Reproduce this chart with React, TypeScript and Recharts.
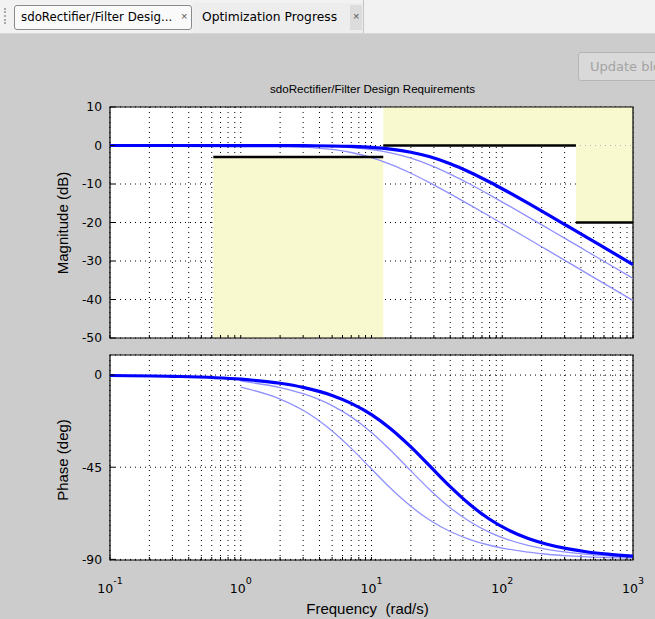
import React from 'react';
import { ComposedChart, Line, XAxis, YAxis, CartesianGrid, ReferenceArea } from 'recharts';

// ---- data ----
const freqThick = [0.1, 0.3, 1, 2, 3, 5, 7, 10, 14, 20, 28, 40, 56, 80, 110, 160, 220, 320, 450, 640, 1000];
const magThick = [0, 0, -0.01, -0.02, -0.05, -0.13, -0.25, -0.5, -0.94, -1.74, -2.94, -4.73, -6.87, -9.48, -12.01, -15.12, -17.82, -21.04, -23.98, -27.04, -30.91];
const phaseThick = [-0.2, -0.6, -2.0, -4.0, -6.0, -9.95, -13.8, -19.3, -26.2, -35.1, -44.5, -54.5, -63.0, -70.4, -75.5, -79.9, -82.6, -84.9, -86.4, -87.45, -88.4];

const freqThin = [1, 2, 3, 5, 7, 10, 14, 20, 28, 40, 56, 80, 110, 160, 220, 320, 450, 640, 1000];
const magMid = [-0.01, -0.05, -0.11, -0.3, -0.56, -1.08, -1.92, -3.29, -5.08, -7.42, -9.94, -12.81, -15.47, -18.66, -21.4, -24.63, -27.59, -30.64, -34.52];
const phaseMid = [-3.0, -6.1, -9.1, -14.9, -20.4, -28.0, -36.7, -46.8, -56.1, -64.8, -71.4, -76.8, -80.3, -83.3, -85.1, -86.6, -87.6, -88.3, -88.9];
const magLow = [-0.05, -0.18, -0.4, -1.02, -1.82, -3.14, -4.89, -7.2, -9.7, -12.55, -15.36, -18.39, -21.13, -24.36, -27.12, -30.37, -33.33, -36.39, -40.27];
const phaseLow = [-5.9, -11.7, -17.2, -27.3, -35.8, -45.9, -55.3, -64.1, -70.9, -76.4, -80.2, -83.1, -85.0, -86.5, -87.5, -88.3, -88.8, -89.1, -89.4];

// design requirement bounds
const lowerBoundFreq = [0.617, 12.3];
const lowerBoundMag = [-3, -3];
const upperBoundFreqA = [12.3, 366];
const upperBoundMagA = [0, 0];
const upperBoundFreqB = [366, 1000];
const upperBoundMagB = [-20, -20];

// axes
const xTicks = [0.1, 0.2, 0.3, 0.4, 0.5, 0.6, 0.7, 0.8, 0.9, 1, 2, 3, 4, 5, 6, 7, 8, 9, 10, 20, 30, 40, 50, 60, 70, 80, 90, 100, 200, 300, 400, 500, 600, 700, 800, 900, 1000];
const decades = [0.1, 1, 10, 100, 1000];
const decadeExp = ['-1', '0', '1', '2', '3'];
const magTicks = [10, 0, -10, -20, -30, -40, -50];
const phaseTicks = [0, -45, -90];
const magDomain = [-50, 10];
const phaseDomain = [-90.3, 9.8];
const xDomain = [0.1, 1000];

const zip = (xs: number[], ys: number[]) => xs.map((f, i) => ({ f, v: ys[i] }));

const THICK = '#0000ff';
const THIN = '#9090ff';
const YELLOW = '#f9f9d0';
const tickFont = { fontFamily: '"DejaVu Sans", sans-serif', fontSize: 12.3, fill: '#000' };

const XTick = (props: any) => {
  const { x, y, payload } = props;
  const idx = decades.indexOf(payload.value);
  if (idx < 0) return <g />;
  return (
    <text x={x} y={y + 25} textAnchor="middle" style={{ fontFamily: '"DejaVu Sans", sans-serif', fontSize: 12.5 }} fill="#000">
      10<tspan dy={-9} fontSize={9.5}>{decadeExp[idx]}</tspan>
    </text>
  );
};

const EmptyTick = () => <g />;

function Panel(props: {
  top: number; height: number; margin: any; yTicks: number[]; yDomain: number[];
  thick: any[]; mid: any[]; low: any[]; showX: boolean; bounds: boolean;
}) {
  const { top, height, margin, yTicks, yDomain, thick, mid, low, showX, bounds } = props;
  return (
    <div style={{ position: 'absolute', left: 0, top, width: 655, height }}>
      <ComposedChart width={655} height={height} margin={margin}>
        <CartesianGrid stroke="#000" strokeDasharray="1 4" fill="#ffffff" fillOpacity={1} />
        <XAxis
          dataKey="f" type="number" scale="log" domain={xDomain} ticks={xTicks} allowDataOverflow
          axisLine={false} tickLine={{ stroke: '#000' }} tickSize={-3} tickMargin={11} interval={0}
          tick={showX ? <XTick /> : <EmptyTick />} height={showX ? 40 : 1}
        />
        <YAxis
          type="number" domain={yDomain} ticks={yTicks} allowDataOverflow interval={0}
          axisLine={false} tickLine={{ stroke: '#000' }} tickSize={-5} tickMargin={13} width={50} tick={tickFont}
        />
        {bounds && <ReferenceArea x1={lowerBoundFreq[0]} x2={lowerBoundFreq[1]} y1={magDomain[0]} y2={lowerBoundMag[0]} fill={YELLOW} fillOpacity={1} stroke="none" />}
        {bounds && <ReferenceArea x1={upperBoundFreqA[0]} x2={xDomain[1]} y1={upperBoundMagA[0]} y2={magDomain[1]} fill={YELLOW} fillOpacity={1} stroke="none" />}
        {bounds && <ReferenceArea x1={upperBoundFreqB[0]} x2={xDomain[1]} y1={upperBoundMagB[0]} y2={upperBoundMagA[0]} fill={YELLOW} fillOpacity={1} stroke="none" />}
        <Line data={low} dataKey="v" type="monotone" stroke={THIN} strokeWidth={1.3} dot={false} isAnimationActive={false} />
        <Line data={mid} dataKey="v" type="monotone" stroke={THIN} strokeWidth={1.3} dot={false} isAnimationActive={false} />
        <Line data={thick} dataKey="v" type="monotone" stroke={THICK} strokeWidth={3.2} dot={false} isAnimationActive={false} />
        {bounds && <Line data={zip(lowerBoundFreq, lowerBoundMag)} dataKey="v" type="linear" stroke="#000" strokeWidth={2.5} dot={false} isAnimationActive={false} />}
        {bounds && <Line data={zip(upperBoundFreqA, upperBoundMagA)} dataKey="v" type="linear" stroke="#000" strokeWidth={2.5} dot={false} isAnimationActive={false} />}
        {bounds && <Line data={zip(upperBoundFreqB, upperBoundMagB)} dataKey="v" type="linear" stroke="#000" strokeWidth={2.5} dot={false} isAnimationActive={false} />}
        <ReferenceArea x1={xDomain[0]} x2={xDomain[1]} y1={yDomain[0]} y2={yDomain[1]} fill="none" stroke="#000" strokeWidth={1.2} ifOverflow="visible" />
      </ComposedChart>
    </div>
  );
}

export default function App() {
  const label: React.CSSProperties = { position: 'absolute', fontSize: 15, color: '#000', whiteSpace: 'pre', lineHeight: '17px' };
  return (
    <div style={{ position: 'absolute', left: 0, top: 0, width: 655, height: 619, overflow: 'hidden', background: '#cccccc', fontFamily: '"Liberation Sans", Arial, sans-serif' }}>
      {/* tab strip */}
      <div style={{ position: 'absolute', left: 0, top: 0, width: 655, height: 33, background: '#f2f2f2', borderBottom: '1px solid #d6d6d6' }} />
      <div style={{ position: 'absolute', left: 4, top: 8, width: 2, height: 16, borderLeft: '2px dotted #aaa' }} />
      <div style={{ position: 'absolute', left: 14, top: 5, width: 178, height: 25, background: '#fafafa', border: '1px solid #8a8a8a', borderRadius: 3, boxSizing: 'border-box' }} />
      <div style={{ ...label, left: 21, top: 9, fontFamily: '"DejaVu Sans", sans-serif', fontSize: 11.8 }}>sdoRectifier/Filter Desig...</div>
      <div style={{ ...label, left: 181, top: 8, fontSize: 11, color: '#555' }}>×</div>
      <div style={{ position: 'absolute', left: 193, top: 3, width: 170, height: 30, background: '#ededed' }} />
      <div style={{ ...label, left: 202, top: 9, fontFamily: '"DejaVu Sans", sans-serif', fontSize: 12.3 }}>Optimization Progress</div>
      <div style={{ position: 'absolute', left: 350, top: 5, width: 12, height: 25, background: '#dcdcdc' }} />
      <div style={{ ...label, left: 353, top: 8, fontSize: 11, color: '#555' }}>×</div>
      <div style={{ position: 'absolute', left: 363, top: 0, width: 1, height: 33, background: '#c4c4c4' }} />

      {/* button */}
      <div style={{ position: 'absolute', left: 578, top: 52, width: 100, height: 29, border: '1px solid #b5b5b5', borderRadius: 3, background: '#d9d9d9', boxSizing: 'border-box' }} />
      <div style={{ ...label, left: 590, top: 58, fontFamily: '"DejaVu Sans", sans-serif', fontSize: 13, color: '#a3a3a3' }}>Update blocks</div>

      {/* title & labels */}
      <div style={{ ...label, left: 0, width: 745, top: 80, textAlign: 'center', fontSize: 11.6 }}>sdoRectifier/Filter Design Requirements</div>
      <div style={{ ...label, left: 62, top: 223, transform: 'translate(-50%, -50%) rotate(-90deg)' }}>Magnitude (dB)</div>
      <div style={{ ...label, left: 62, top: 460, transform: 'translate(-50%, -50%) rotate(-90deg)' }}>Phase (deg)</div>
      <div style={{ ...label, left: 0, width: 735, top: 600, textAlign: 'center' }}>{'Frequency  (rad/s)'}</div>

      <Panel
        top={95} height={260} margin={{ top: 12, right: 22, bottom: 16, left: 60 }}
        yTicks={magTicks} yDomain={magDomain}
        thick={zip(freqThick, magThick)} mid={zip(freqThin, magMid)} low={zip(freqThin, magLow)}
        showX={false} bounds={true}
      />
      <Panel
        top={345} height={274} margin={{ top: 10, right: 22, bottom: 19, left: 60 }}
        yTicks={phaseTicks} yDomain={phaseDomain}
        thick={zip(freqThick, phaseThick)} mid={zip(freqThin, phaseMid)} low={zip(freqThin, phaseLow)}
        showX={true} bounds={false}
      />
    </div>
  );
}
